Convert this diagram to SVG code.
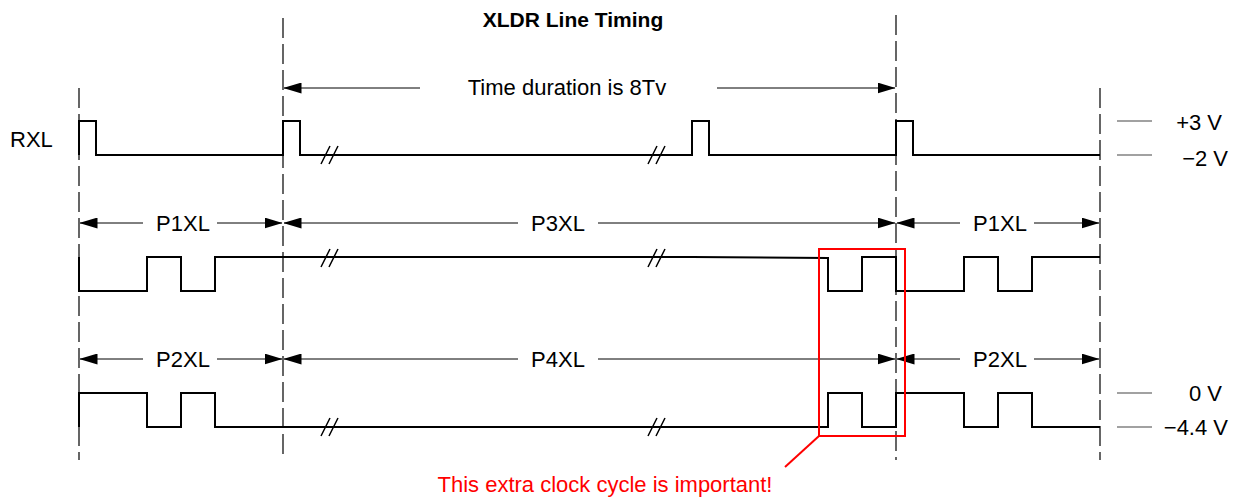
<svg xmlns="http://www.w3.org/2000/svg" width="1235" height="498" viewBox="0 0 1235 498">
<style>
text{font-family:"Liberation Sans",Arial,sans-serif;font-size:22px;fill:#000}
.t{font-weight:bold;font-size:21px}
.r{fill:#ff0000}
.grid{stroke:#000;stroke-width:1.2;stroke-dasharray:20,6;fill:none}
.wave{stroke:#000;stroke-width:2;fill:none;stroke-linejoin:miter}
.dim{stroke:#000;stroke-width:1;fill:none}
.brk{stroke:#000;stroke-width:1.5;fill:none}
.tick{stroke:#444;stroke-width:1.2}
</style>
<defs>
<marker id="ah" viewBox="0 0 18 11" refX="17.5" refY="5.5" markerWidth="18" markerHeight="11" markerUnits="userSpaceOnUse" orient="auto-start-reverse">
<path d="M0,0 L18,5.5 L0,11 Z" fill="#000"/>
</marker>
</defs>
<rect width="1235" height="498" fill="#fff"/>
<text class="t" x="573" y="27" text-anchor="middle">XLDR Line Timing</text>
<g id="grid">
<line class="grid" x1="79" y1="88" x2="79" y2="460"/>
<line class="grid" x1="283" y1="18" x2="283" y2="460"/>
<line class="grid" x1="896" y1="15" x2="896" y2="460"/>
<line class="grid" x1="1100" y1="88" x2="1100" y2="460"/>
</g>
<g id="connectors">
<line class="dim" x1="420" y1="88" x2="284" y2="88" marker-end="url(#ah)"/>
<line class="dim" x1="717" y1="88" x2="895" y2="88" marker-end="url(#ah)"/>
<line class="dim" x1="143" y1="223" x2="80" y2="223" marker-end="url(#ah)"/>
<line class="dim" x1="217" y1="223" x2="282" y2="223" marker-end="url(#ah)"/>
<line class="dim" x1="518" y1="223" x2="284" y2="223" marker-end="url(#ah)"/>
<line class="dim" x1="598" y1="223" x2="895" y2="223" marker-end="url(#ah)"/>
<line class="dim" x1="960" y1="223" x2="897" y2="223" marker-end="url(#ah)"/>
<line class="dim" x1="1034" y1="223" x2="1099" y2="223" marker-end="url(#ah)"/>
<line class="dim" x1="143" y1="359" x2="80" y2="359" marker-end="url(#ah)"/>
<line class="dim" x1="217" y1="359" x2="282" y2="359" marker-end="url(#ah)"/>
<line class="dim" x1="518" y1="359" x2="284" y2="359" marker-end="url(#ah)"/>
<line class="dim" x1="598" y1="359" x2="895" y2="359" marker-end="url(#ah)"/>
<line class="dim" x1="960" y1="359" x2="897" y2="359" marker-end="url(#ah)"/>
<line class="dim" x1="1034" y1="359" x2="1099" y2="359" marker-end="url(#ah)"/>
</g>
<g id="labels">
<text x="567" y="95" text-anchor="middle">Time duration is 8Tv</text>
<text x="10" y="147">RXL</text>
<text x="183" y="231" text-anchor="middle">P1XL</text>
<text x="558" y="231" text-anchor="middle">P3XL</text>
<text x="1000" y="231" text-anchor="middle">P1XL</text>
<text x="183" y="367" text-anchor="middle">P2XL</text>
<text x="558" y="367" text-anchor="middle">P4XL</text>
<text x="1000" y="367" text-anchor="middle">P2XL</text>
</g>
<g id="rxl">
<polyline class="wave" points="79,155 79,121 96,121 96,155 283,155 283,121 300,121 300,155 692,155 692,121 709,121 709,155 896,155 896,121 913,121 913,155 1100,155"/>
<path class="brk" d="M321,164 L330,146 M329,164 L338,146 M648,164 L657,146 M656,164 L665,146"/>
</g>
<g id="p3xl">
<polyline class="wave" points="79,257 79,291 147,291 147,257 181,257 181,291 215,291 215,257 692,257 828,258 828,291 862,291 862,257 896,257 896,291 964,291 964,257 998,257 998,291 1032,291 1032,257 1100,257"/>
<path class="brk" d="M321,267 L330,249 M329,267 L338,249 M648,267 L657,249 M656,267 L665,249"/>
</g>
<g id="p4xl">
<polyline class="wave" points="79,427 79,393 147,393 147,427 181,427 181,393 215,393 215,427 828,427 828,393 862,393 862,427 896,427 896,393 964,393 964,427 998,427 998,393 1032,393 1032,427 1100,427"/>
<path class="brk" d="M321,436 L330,418 M329,436 L338,418 M648,436 L657,418 M656,436 L665,418"/>
</g>
<g id="levels">
<line class="tick" x1="1117" y1="121" x2="1152" y2="121"/>
<line class="tick" x1="1117" y1="155" x2="1152" y2="155"/>
<line class="tick" x1="1117" y1="393" x2="1152" y2="393"/>
<line class="tick" x1="1117" y1="427" x2="1152" y2="427"/>
<text x="1222" y="130" text-anchor="end">+3 V</text>
<text x="1228" y="166" text-anchor="end">−2 V</text>
<text x="1222" y="401" text-anchor="end">0 V</text>
<text x="1228" y="435" text-anchor="end">−4.4 V</text>
</g>
<g id="callout">
<rect x="819" y="249" width="86" height="187" fill="none" stroke="#ff0000" stroke-width="2"/>
<line x1="819" y1="436" x2="785" y2="467" stroke="#ff0000" stroke-width="2"/>
<text class="r" x="605" y="492" text-anchor="middle">This extra clock cycle is important!</text>
</g>
</svg>
